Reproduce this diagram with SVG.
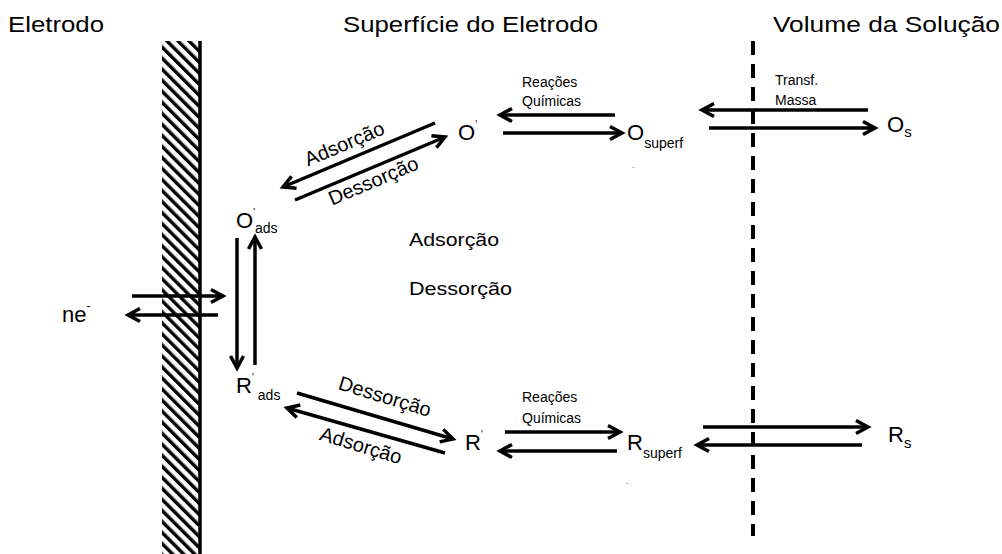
<svg xmlns="http://www.w3.org/2000/svg" width="1002" height="554" viewBox="0 0 1002 554">
<style>
.t{font-family:"Liberation Sans",Arial,sans-serif;fill:#000}
.big{font-size:22px}
.mid{font-size:20px}
.sm{font-size:14px}
.ln{stroke:#000;stroke-width:3.5;fill:none;stroke-linecap:butt}
</style>
<defs>
<marker id="ah" markerUnits="userSpaceOnUse" markerWidth="20" markerHeight="20" viewBox="0 0 20 20" refX="15" refY="10" orient="auto">
<path d="M3,3.5 L15,10 L3,16.5" fill="none" stroke="#000" stroke-width="3.5" stroke-linejoin="miter"/>
</marker>
<pattern id="hatch" patternUnits="userSpaceOnUse" width="7.8" height="20" patternTransform="rotate(-45 162 41)">
<rect x="0" y="0" width="3.4" height="20" fill="#000"/>
</pattern>
</defs>

<g id="electrode">
<rect x="162" y="41" width="37" height="513" fill="url(#hatch)"/>
<line x1="200" y1="41" x2="200" y2="554" stroke="#000" stroke-width="3.5"/>
</g>

<g id="boundary">
<line x1="753" y1="41" x2="753" y2="536" stroke="#000" stroke-width="4" stroke-dasharray="14 9"/>
</g>

<g id="headers">
<text class="t big" x="8" y="32" textLength="96" lengthAdjust="spacingAndGlyphs">Eletrodo</text>
<text class="t big" x="343" y="32" textLength="255" lengthAdjust="spacingAndGlyphs">Superfície do Eletrodo</text>
<text class="t big" x="773" y="32" textLength="227" lengthAdjust="spacingAndGlyphs">Volume da Solução</text>
</g>

<g id="connectors">
<line class="ln" x1="435" y1="123" x2="283" y2="187" marker-end="url(#ah)"/>
<line class="ln" x1="295" y1="200" x2="445" y2="137" marker-end="url(#ah)"/>
<line class="ln" x1="615" y1="115" x2="500" y2="115" marker-end="url(#ah)"/>
<line class="ln" x1="503" y1="133" x2="622" y2="133" marker-end="url(#ah)"/>
<line class="ln" x1="868" y1="110" x2="702" y2="110" marker-end="url(#ah)"/>
<line class="ln" x1="709" y1="128" x2="875" y2="128" marker-end="url(#ah)"/>
<line class="ln" x1="237" y1="238" x2="237" y2="368" marker-end="url(#ah)"/>
<line class="ln" x1="255" y1="365" x2="255" y2="237" marker-end="url(#ah)"/>
<line class="ln" x1="132" y1="296" x2="223" y2="296" marker-end="url(#ah)"/>
<line class="ln" x1="218" y1="315" x2="128" y2="315" marker-end="url(#ah)"/>
<line class="ln" x1="297" y1="393" x2="453" y2="439" marker-end="url(#ah)"/>
<line class="ln" x1="445" y1="453" x2="287" y2="408" marker-end="url(#ah)"/>
<line class="ln" x1="505" y1="432" x2="620" y2="432" marker-end="url(#ah)"/>
<line class="ln" x1="617" y1="451" x2="500" y2="451" marker-end="url(#ah)"/>
<line class="ln" x1="703" y1="427" x2="868" y2="427" marker-end="url(#ah)"/>
<line class="ln" x1="862" y1="445" x2="697" y2="445" marker-end="url(#ah)"/>
</g>

<g id="labels">
<text class="t mid" x="347" y="150" text-anchor="middle" transform="rotate(-23 347 150)">Adsorção</text>
<text class="t mid" x="376" y="187" text-anchor="middle" transform="rotate(-23 376 187)">Dessorção</text>
<text class="t mid" x="383" y="403" text-anchor="middle" transform="rotate(17 383 403)">Dessorção</text>
<text class="t mid" x="359" y="452" text-anchor="middle" transform="rotate(17 359 452)">Adsorção</text>
<text class="t sm" x="522" y="87">Reações</text>
<text class="t sm" x="522" y="106">Químicas</text>
<text class="t sm" x="522" y="402">Reações</text>
<text class="t sm" x="522" y="423">Químicas</text>
<text class="t sm" x="775" y="85">Transf.</text>
<text class="t sm" x="775" y="105">Massa</text>
<text class="t" font-size="19" x="409" y="246" textLength="90" lengthAdjust="spacingAndGlyphs">Adsorção</text>
<text class="t" font-size="19" x="409" y="295" textLength="103" lengthAdjust="spacingAndGlyphs">Dessorção</text>
</g>

<g id="node-O-prime">
<text class="t big" x="458" y="140">O<tspan font-size="10" dy="-12">'</tspan></text>
</g>
<g id="node-O-superf">
<text class="t big" x="627" y="140">O<tspan font-size="14" dy="8">superf</tspan></text>
<text class="t" font-size="8" x="632" y="168">.</text>
</g>
<g id="node-O-s">
<text class="t big" x="887" y="132">O<tspan font-size="15" dy="5">s</tspan></text>
</g>
<g id="node-O-ads">
<text class="t big" x="236" y="228">O<tspan font-size="10" dy="-12">'</tspan><tspan font-size="14" dy="17">ads</tspan></text>
</g>
<g id="node-R-ads">
<text class="t big" x="236" y="393">R<tspan font-size="10" dy="-12">'</tspan><tspan font-size="14" dy="19" dx="4">ads</tspan></text>
</g>
<g id="node-ne">
<text class="t big" x="62" y="322">ne<tspan font-size="12" dy="-12">-</tspan></text>
</g>
<g id="node-R-prime">
<text class="t big" x="465" y="450">R<tspan font-size="10" dy="-12">'</tspan></text>
</g>
<g id="node-R-superf">
<text class="t big" x="627" y="450">R<tspan font-size="14" dy="8">superf</tspan></text>
<text class="t" font-size="8" x="626" y="484">.</text>
</g>
<g id="node-R-s">
<text class="t big" x="888" y="442">R<tspan font-size="15" dy="6">s</tspan></text>
</g>
</svg>
